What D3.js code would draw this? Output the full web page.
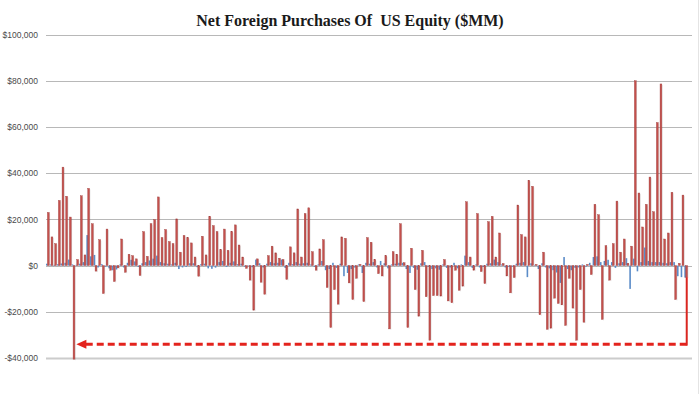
<!DOCTYPE html>
<html>
<head>
<meta charset="utf-8">
<script src="https://cdn.jsdelivr.net/npm/d3@7"></script>
<style>
  body { margin: 0; background: #fff; }
  svg { display: block; }
</style>
</head>
<body>
<div class="chart"></div>
<script>
// Monthly net purchases ($MM)
var foreignPrivate = [
  23000, 12400, 9500, 28200, 42600, 30000, 21000, -40500, 2600, 30200,
  4600, 33400, 18100, -2400, 11200, -12100, 15800, -2000, -6900, -1000,
  11500, -2900, 4900, 4300, 2900, -4300, 14700, 4000, 18100, 19900,
  29700, 12100, 15600, 10400, 9500, 20200, 5800, 13000, 12100, 9800,
  3700, -4600, 12700, 4600, 21300, 17300, 14700, 6900, 15800, 6600,
  14700, 17600, 8900, 3700, -1200, -6300, -19300, 2900, -7200, -12400,
  4300, 8400, 5500, 3200, 2600, -6000, 8100, 5500, 24500, 3700,
  22500, 25000, 6000, -2000, 7200, 11200, -9500, -26800, -10400, -16700,
  12400, 11800, -7500, -14700, -5500, 500, -15600, 12100, 10100, 2600,
  -3500, -4500, 4300, -27400, 6000, 4900, 18100, 1200, -26800, 7500,
  -10400, -21900, 6600, -13500, -32300, -13000, -13000, -13200, 2600, -15300,
  -16100, -2000, -10700, -8900, 27600, 3700, -2000, 22500, -2600, -7800,
  19000, 21300, 3700, 14100, 900, -4500, -11800, -5200, 26200, 13400,
  12400, 36900, 34300, 500, -21300, 5800, -27600, -27100, -14100, -16400,
  -17000, -25900, -5500, -18400, -32300, -10400, -24500, 500, -3900, 26500,
  22000, -23300, 8600, -6300, 9500, 27900, 5800, 11500, 1000, 8400,
  80000, 31400, 16700, 26500, 38300, 23300, 61900, 78600, 11500, 14100,
  31700, -14700, 1000, 30500, -5000
];
var foreignOfficial = [
  800, 500, 300, 600, 900, 1200, 2600, 500, 300, 800,
  1500, 13200, 4000, 4600, -800, 600, -500, -1200, -2000, -1700,
  500, -800, 1200, 2500, 1800, -600, 1000, 1500, 2200, 3000,
  4300, 1500, 1000, 800, 500, 1200, -1500, -800, -600, 1000,
  1000, -700, 600, 800, -1200, -1400, -900, 1500, 2000, -600,
  1200, 1800, 600, 800, -500, -300, -700, 2600, 1000, -800,
  800, 1500, 1000, 1200, 2600, -1000, 1200, 600, 1500, 800,
  1000, 1200, 500, -600, 500, 2000, -2000, -1500, 1200, -1000,
  800, -4600, -3200, -1500, -900, 500, -3200, 1200, 800, 1500,
  -800, 2000, 1000, -1200, 500, 800, 1200, 1200, -1500, -3200,
  -1000, -1800, 1000, 1500, -500, -1500, -1200, -1800, 500, -1000,
  -800, 1200, -1200, 500, 4300, 1500, -1000, 500, -800, -600,
  800, 1000, 2600, 1500, 500, -800, -600, -500, 800, 1200,
  1500, -5000, 1000, 300, -1500, 1000, -800, -1200, -2000, -3000,
  -7500, 3700, -1500, -2000, -1000, -800, 500, -500, 1200, 3700,
  4000, 1500, 2000, 2500, 1500, -1000, 1000, 1500, 3200, -10100,
  3000, -2500, 1500, 7800, 2000, 1500, 1500, 1500, 1200, 1000,
  1500, 1500, -4600, -5000, -5200
];
var yTicks = [-40000, -20000, 0, 20000, 40000, 60000, 80000, 100000];
var arrowLevel = -34000;   // dashed arrow line
var arrowFrom = 174;       // latest month
var arrowTo = 7;           // the old low

var W = 700, H = 394;
var margin = {top: 34.5, right: 10, bottom: 36, left: 46};

var svg = d3.select("div.chart").append("svg")
    .attr("width", W)
    .attr("height", H);

svg.append("text")
    .attr("x", 350)
    .attr("y", 26)
    .attr("text-anchor", "middle")
    .style("white-space", "pre")
    .style("font-family", "Liberation Serif, serif")
    .style("font-weight", "bold")
    .style("font-size", "16px")
    .style("fill", "#1a1a1a")
    .text("Net Foreign Purchases Of  US Equity ($MM)");

var idx = d3.range(foreignPrivate.length);

var x = d3.scaleBand()
    .domain(idx)
    .range([margin.left, 688])
    .paddingInner(0)
    .paddingOuter(0);

var y = d3.scaleLinear()
    .domain([-40000, 100000])
    .range([H - margin.bottom, margin.top]);

// gridlines
svg.append("g")
    .selectAll("line")
    .data(yTicks)
    .enter()
    .append("line")
        .attr("x1", margin.left)
        .attr("x2", 692)
        .attr("y1", function(d) { return Math.round(y(d)) + 0.5; })
        .attr("y2", function(d) { return Math.round(y(d)) + 0.5; })
        .style("stroke", function(d) { return d == -40000 ? "#cccccc" : "#b8b8b8"; })
        .attr("stroke-width", function(d) { return d == -40000 ? 2 : 1; });

// y axis labels
var yAxis = d3.axisLeft(y)
    .tickValues(yTicks)
    .tickSize(0)
    .tickPadding(8)
    .tickFormat(function(d) { return (d < 0 ? "-$" : "$") + d3.format(",")(Math.abs(d)); });

var ga = svg.append("g")
    .attr("transform", "translate(" + margin.left + ",0)")
    .call(yAxis);
ga.select(".domain").remove();
ga.selectAll("text")
    .style("font-family", "Liberation Sans, Arial, sans-serif")
    .style("font-size", "8.5px")
    .style("fill", "#4a4a4a");

var bw = x.bandwidth();

function barY(v) { return y(Math.max(0, v)); }
function barH(v) { return Math.abs(y(v) - y(0)); }

// soft shadow like the spreadsheet bars
svg.append("g")
    .selectAll("rect")
    .data(idx)
    .enter()
    .append("rect")
        .attr("x", function(i) { return x(i) + 1.4 + 1.8; })
        .attr("y", function(i) { return barY(foreignPrivate[i]) + 1; })
        .attr("width", 0.9)
        .attr("height", function(i) { return barH(foreignPrivate[i]); })
        .style("fill", "rgba(0,0,0,0.10)");

// blue series
svg.append("g")
    .selectAll("rect")
    .data(idx)
    .enter()
    .append("rect")
        .attr("x", function(i) { return x(i); })
        .attr("y", function(i) { return barY(foreignOfficial[i]); })
        .attr("width", 1.6)
        .attr("height", function(i) { return barH(foreignOfficial[i]); })
        .style("fill", "#5b8cc8");

// red series
svg.append("g")
    .selectAll("rect")
    .data(idx)
    .enter()
    .append("rect")
        .attr("x", function(i) { return x(i) + 1.4; })
        .attr("y", function(i) { return barY(foreignPrivate[i]); })
        .attr("width", 1.8)
        .attr("height", function(i) { return barH(foreignPrivate[i]); })
        .style("fill", "#c4504c")
        .style("stroke", "#a04240")
        .attr("stroke-width", 0.4);

// annotation arrow
var ax1 = x(arrowFrom) + 2.4;
var ax0 = x(arrowTo) + bw + 1;
var ay = y(arrowLevel);

svg.append("line")
    .attr("x1", ax1).attr("x2", ax1)
    .attr("y1", y(foreignPrivate[arrowFrom]))
    .attr("y2", ay + 1.5)
    .style("stroke", "#d92620")
    .attr("stroke-width", 2);

svg.append("line")
    .attr("x1", ax1).attr("x2", ax0 + 8)
    .attr("y1", ay).attr("y2", ay)
    .style("stroke", "#e3231d")
    .attr("stroke-width", 3)
    .attr("stroke-dasharray", "7,4");

svg.append("path")
    .attr("d", "M" + ax0 + "," + ay + "L" + (ax0 + 10) + "," + (ay - 4.5) + "L" + (ax0 + 10) + "," + (ay + 4.5) + "Z")
    .style("fill", "#e3231d");

// faint frame edge on the right
svg.append("line")
    .attr("x1", 698.5).attr("x2", 698.5)
    .attr("y1", 0).attr("y2", H)
    .style("stroke", "#e4e4e4");
</script>
</body>
</html>
